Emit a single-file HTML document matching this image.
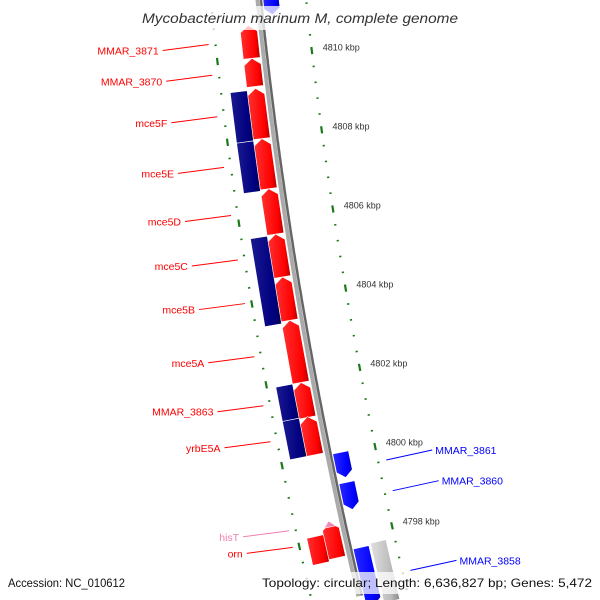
<!DOCTYPE html>
<html><head><meta charset="utf-8"><style>
html,body{margin:0;padding:0;background:#fff;width:600px;height:600px;overflow:hidden}
svg{display:block;font-family:"Liberation Sans",sans-serif;overflow:hidden}
</style></head><body>
<svg id="map" width="600" height="600" viewBox="0 0 600 600">
<defs>
<linearGradient id="gRed" x1="0" x2="1"><stop offset="0" stop-color="#ff3030"/><stop offset="0.75" stop-color="#ff0000"/><stop offset="1" stop-color="#b00000"/></linearGradient>
<linearGradient id="gNavy" x1="0" x2="1"><stop offset="0" stop-color="#1a1a90"/><stop offset="0.75" stop-color="#000080"/><stop offset="1" stop-color="#000050"/></linearGradient>
<linearGradient id="gBlue" x1="0" x2="1"><stop offset="0" stop-color="#2a2aff"/><stop offset="0.75" stop-color="#0000ff"/><stop offset="1" stop-color="#0000b0"/></linearGradient>
<linearGradient id="gGray" x1="0" x2="1"><stop offset="0" stop-color="#e0e0e0"/><stop offset="0.7" stop-color="#bbbbbb"/><stop offset="1" stop-color="#888"/></linearGradient>
<linearGradient id="gPink" x1="0" x2="1"><stop offset="0" stop-color="#ff99c8"/><stop offset="1" stop-color="#e0709f"/></linearGradient>
</defs>
<g id="ticks"></g>
<g id="backbone"></g>
<g id="genes"></g>
<g id="labels"></g>
<rect x="135" y="6" width="330" height="24" fill="#fff" opacity="0.75"/>
<text x="142" y="23" textLength="316" lengthAdjust="spacingAndGlyphs" font-size="14" font-style="italic" fill="#333">Mycobacterium marinum M, complete genome</text>
<rect x="255" y="572" width="345" height="22" fill="#fff" opacity="0.75"/>
<text x="8" y="587" textLength="117" lengthAdjust="spacingAndGlyphs" font-size="12" fill="#111">Accession: NC_010612</text>
<text x="262" y="587" textLength="330" lengthAdjust="spacingAndGlyphs" font-size="12" fill="#111">Topology: circular; Length: 6,636,827 bp; Genes: 5,472</text>
</svg>
<script>
// gene data (kbp)
const geneNames = ["MMAR_3871","MMAR_3870","mce5F","mce5E","mce5D","mce5C","mce5B","mce5A","MMAR_3863","yrbE5A","orn","","hisT","","","","","","MMAR_3861","MMAR_3860","MMAR_3858","",""];
const geneStart = [4809.98,4809.28,4807.98,4806.73,4805.60,4804.53,4803.45,4801.90,4801.03,4800.10,4797.53,4797.48,4798.30,4807.95,4806.70,4803.40,4801.05,4800.10,4799.40,4798.60,4796.2,4796.2,4811.0];
const geneEnd   = [4810.80,4809.98,4809.23,4807.98,4806.73,4805.60,4804.53,4803.45,4801.90,4801.05,4798.40,4798.15,4798.45,4809.20,4807.95,4805.58,4801.90,4801.05,4800.03,4799.28,4797.65,4797.70,4811.6];
const geneType  = ["fwd","fwd","fwd","fwd","fwd","fwd","fwd","fwd","fwd","fwd","fwd","fwdInner","pink","rev","rev","rev","rev","rev","blue","blue","blue","gray","blue"];
const tickMajors = [4812,4810,4808,4806,4804,4802,4800,4798,4796];
const tickLabels = ["","4810 kbp","4808 kbp","4806 kbp","4804 kbp","4802 kbp","4800 kbp","4798 kbp",""];

const NS="http://www.w3.org/2000/svg";
function yOf(k){return 56+(4810-k)*40;}
function P(k,off){
  const y=yOf(k);
  const xb=259+0.1027*y+0.0001117*y*y;
  const s=0.1027+2*0.0001117*y;
  const n=Math.sqrt(1+s*s);
  return [xb+off/n, y-off*s/n];
}
const rings={fwd:[-22,-5,"url(#gRed)",1],fwdInner:[-39,-22,"url(#gRed)",0],rev:[-39,-22,"url(#gNavy)",0],
  blue:[4,20,"url(#gBlue)",-1],gray:[22,38,"url(#gGray)",0],pink:[-20,-8,"url(#gPink)",2]};
function mk(tag,attrs,parent){const e=document.createElementNS(NS,tag);for(const k in attrs)e.setAttribute(k,attrs[k]);parent.appendChild(e);return e;}

// backbone
const bb=document.getElementById("backbone");
let d1="",d2="";
for(let k=4812;k>=4796.4;k-=0.1){const a=P(k,-1.5),b=P(k,2);d1+=(d1?"L":"M")+a[0].toFixed(1)+","+a[1].toFixed(1);d2+=(d2?"L":"M")+b[0].toFixed(1)+","+b[1].toFixed(1);}
const bl1=mk("path",{d:d1,stroke:"#aaaaaa","stroke-width":4,fill:"none"},bb);


const bl2=mk("path",{d:d2,stroke:"#666","stroke-width":2.5,fill:"none"},bb);



// ticks
const tg=document.getElementById("ticks");
for(let i=0;i<=40;i++){
  const k=4812-i*0.4;
  const major=Math.abs(Math.round(k/2)*2-k)<0.01;
  for(const off of [-48,47]){
    const a=P(k+(major?0.09:0.02),off),b=P(k-(major?0.09:0.02),off);
    const t=mk("line",{x1:a[0],y1:a[1],x2:b[0],y2:b[1],stroke:"#1a7a1a","stroke-width":2.2},tg);
    
    
  }
}
tickMajors.forEach((k,i)=>{
  if(!tickLabels[i])return;
  const p=P(k,58);
  const t=mk("text",{x:p[0],y:p[1]+1,"font-size":9,fill:"#333"},tg);
  t.textContent=tickLabels[i];
  
  
});

// genes
const gg=document.getElementById("genes"),lg=document.getElementById("labels");
geneStart.forEach((s,i)=>{
  const e=geneEnd[i],r=rings[geneType[i]];
  const [o1,o2,fill,dir]=r;
  let pts;
  const head=0.16;
  if(dir===1){
    const hb=Math.max(s,e-head);
    pts=[P(s,o1),P(hb,o1),P(e,(o1+o2)/2),P(hb,o2),P(s,o2)];
  }else if(dir===-1){
    const hb=Math.min(e,s+head);
    pts=[P(e,o1),P(hb,o1),P(s,(o1+o2)/2),P(hb,o2),P(e,o2)];
  }else if(dir===2){
    pts=[P(s,o1),P(e,(o1+o2)/2),P(s,o2)];
  }else{
    pts=[P(s,o1),P(e,o1),P(e,o2),P(s,o2)];
  }
  const g=mk("polygon",{points:pts.map(p=>p[0].toFixed(1)+","+p[1].toFixed(1)).join(" "),fill:fill,stroke:"#fff","stroke-width":0.6},gg);
  
  
  const name=geneNames[i];
  if(!name)return;
  const mid=(s+e)/2;
  const left=o2<0;
  const color=geneType[i]==="pink"?"#f080b0":(left?"#ff0000":"#0000ff");
  let end,start,tx,anchor;
  if(left){end=P(mid,-55);end[1]-=2;start=[end[0]-46,end[1]+6];tx=start[0]-4;anchor="end";}
  else{end=P(mid,56);end[1]+=4;start=[end[0]+46,end[1]-10];tx=start[0]+3;anchor="start";}
  const ln=mk("line",{x1:start[0],y1:start[1],x2:end[0],y2:end[1],stroke:color,"stroke-width":1},lg);
  
  
  const t=mk("text",{x:tx,y:start[1]+4,"text-anchor":anchor,"font-size":10.5,fill:color},lg);
  t.textContent=name;
  
  
});
</script>
</body></html>
